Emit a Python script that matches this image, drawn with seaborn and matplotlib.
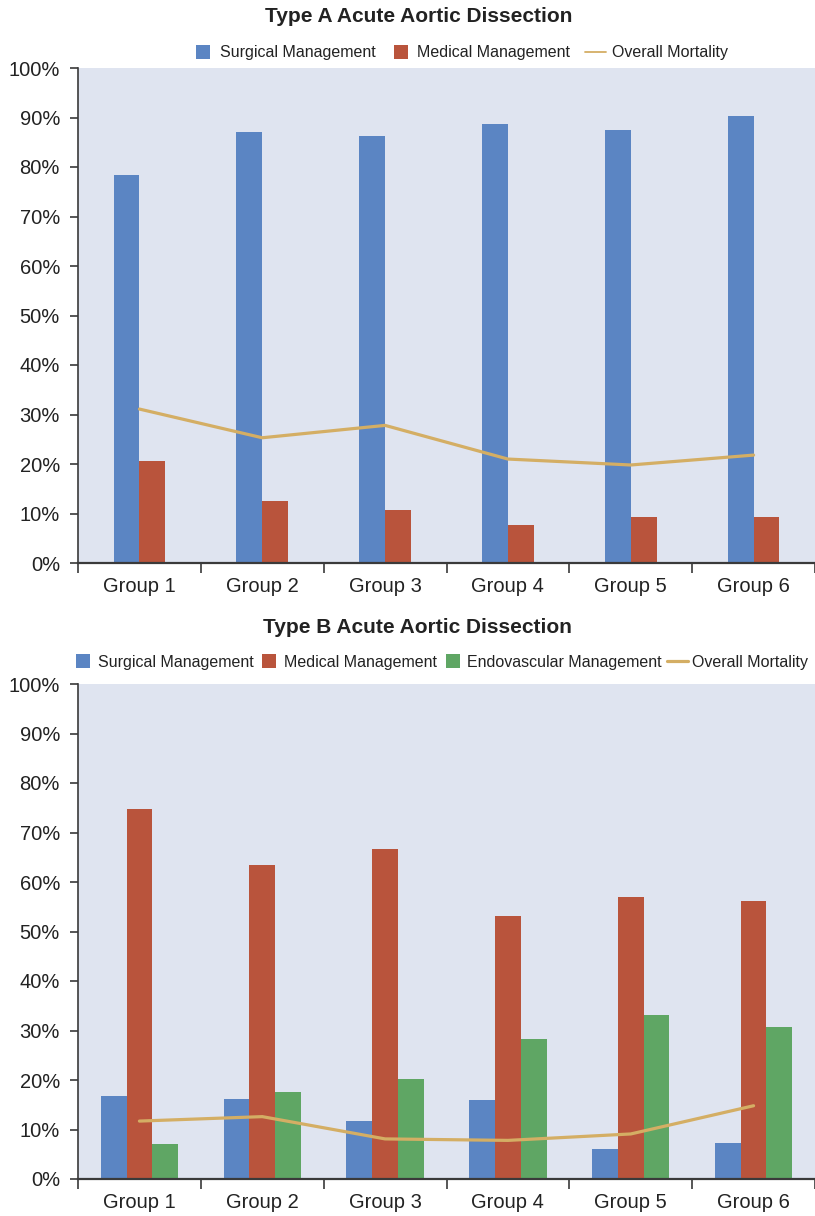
import numpy as np
import pandas as pd
import matplotlib
matplotlib.use("Agg")
import matplotlib.pyplot as plt
from matplotlib.lines import Line2D
import seaborn as sns

# ---- data -------------------------------------------------------------
groups = ["Group 1", "Group 2", "Group 3", "Group 4", "Group 5", "Group 6"]

# Type A acute aortic dissection (% of patients)
a_surgical = [78.4, 87.1, 86.2, 88.7, 87.5, 90.3]
a_medical = [20.7, 12.6, 10.8, 7.6, 9.2, 9.2]
a_mortality = [31.1, 25.3, 27.8, 21.0, 19.8, 21.8]

# Type B acute aortic dissection (% of patients)
b_surgical = [16.8, 16.2, 11.7, 16.0, 6.1, 7.3]
b_medical = [74.8, 63.5, 66.6, 53.2, 57.0, 56.2]
b_endovascular = [7.1, 17.6, 20.2, 28.3, 33.2, 30.7]
b_mortality = [11.7, 12.6, 8.1, 7.8, 9.1, 14.8]

y_ticks = [0, 10, 20, 30, 40, 50, 60, 70, 80, 90, 100]
y_tick_labels = [f"{v}%" for v in y_ticks]

# ---- style --------------------------------------------------------------
sns.set_theme(style="white")
plt.rcParams["font.family"] = ["Liberation Sans", "DejaVu Sans"]

BLUE = "#5B85C3"
RED = "#B9543C"
GREEN = "#5FA664"
GOLD = "#D4AE64"
PANEL = "#DFE4F0"
INK = "#222222"
AXIS = "#3a3a3a"

palette = {
    "Surgical Management": BLUE,
    "Medical Management": RED,
    "Endovascular Management": GREEN,
}

fig = plt.figure(figsize=(8.15, 12.16), dpi=100)
ax_a = fig.add_axes([78 / 815, 1 - 563 / 1216, 1 - 78 / 815, (563 - 68) / 1216])
ax_b = fig.add_axes([78 / 815, 1 - 1179 / 1216, 1 - 78 / 815, (1179 - 684) / 1216])


def draw_panel(ax, series, mortality):
    names = list(series.keys())
    df = pd.DataFrame({
        "group": np.repeat([groups], len(names), axis=0).ravel(),
        "series": np.repeat(names, len(groups)),
        "value": np.concatenate([series[n] for n in names]),
    })
    sns.barplot(data=df, x="group", y="value", hue="series", order=groups,
                hue_order=names, palette=palette, saturation=1,
                width=0.21 * len(names), gap=0, linewidth=0,
                legend=False, ax=ax)
    sns.lineplot(x=np.arange(len(groups)), y=mortality, color=GOLD,
                 linewidth=2.3, ax=ax, legend=False)

    ax.set_facecolor(PANEL)
    ax.set_xlim(-0.5, len(groups) - 0.5)
    ax.set_ylim(0, 100)
    ax.set_xlabel("")
    ax.set_ylabel("")

    ax.set_yticks(y_ticks, y_tick_labels)
    ax.tick_params(axis="y", which="major", direction="out", length=6,
                   width=1.2, color=AXIS, labelsize=14.5, labelcolor=INK,
                   pad=7, left=True)

    bounds = np.arange(len(groups) + 1) - 0.5
    ax.set_xticks(bounds, [""] * len(bounds))
    ax.set_xticks(np.arange(len(groups)), groups, minor=True)
    ax.tick_params(axis="x", which="major", direction="out", length=7,
                   width=1.2, color=AXIS, bottom=True)
    ax.tick_params(axis="x", which="minor", length=0, labelsize=14.5,
                   labelcolor=INK, pad=10)

    for side in ("top", "right"):
        ax.spines[side].set_visible(False)
    ax.spines["left"].set_color(AXIS)
    ax.spines["left"].set_linewidth(1.2)
    ax.spines["bottom"].set_color(AXIS)
    ax.spines["bottom"].set_linewidth(1.6)
    ax.grid(False)


draw_panel(ax_a, {"Surgical Management": a_surgical,
                  "Medical Management": a_medical}, a_mortality)
draw_panel(ax_b, {"Surgical Management": b_surgical,
                  "Medical Management": b_medical,
                  "Endovascular Management": b_endovascular}, b_mortality)

# ---- titles ---------------------------------------------------------------
fig.text(0.514, 1 - 16 / 1216, "Type A Acute Aortic Dissection",
         ha="center", va="center", fontsize=15, fontweight="bold", color=INK)
fig.text(0.512, 1 - 627.5 / 1216, "Type B Acute Aortic Dissection",
         ha="center", va="center", fontsize=15, fontweight="bold", color=INK)


# ---- legends --------------------------------------------------------------
def square(color, label):
    return Line2D([], [], marker="s", linestyle="none", markersize=9.5,
                  markerfacecolor=color, markeredgewidth=0, label=label)


def mort_line(width):
    return Line2D([], [], color=GOLD, linewidth=width, label="Overall Mortality")


ax_a.legend(handles=[square(BLUE, "Surgical Management"),
                     square(RED, "Medical Management"),
                     mort_line(1.3)],
            loc="center", bbox_to_anchor=(460.5 / 815, 1 - 53 / 1216),
            bbox_transform=fig.transFigure, ncol=3, frameon=False,
            fontsize=11.5, handlelength=1.3, handletextpad=0.4,
            columnspacing=0.9, labelcolor=INK, borderaxespad=0,
            borderpad=0)

ax_b.legend(handles=[square(BLUE, "Surgical Management"),
                     square(RED, "Medical Management"),
                     square(GREEN, "Endovascular Management"),
                     mort_line(2.3)],
            loc="center", bbox_to_anchor=(440.5 / 815, 1 - 662 / 1216),
            bbox_transform=fig.transFigure, ncol=4, frameon=False,
            fontsize=11.5, handlelength=1.3, handletextpad=0.25,
            columnspacing=0.35, labelcolor=INK, borderaxespad=0,
            borderpad=0)

fig.savefig("out.png", dpi=100)
